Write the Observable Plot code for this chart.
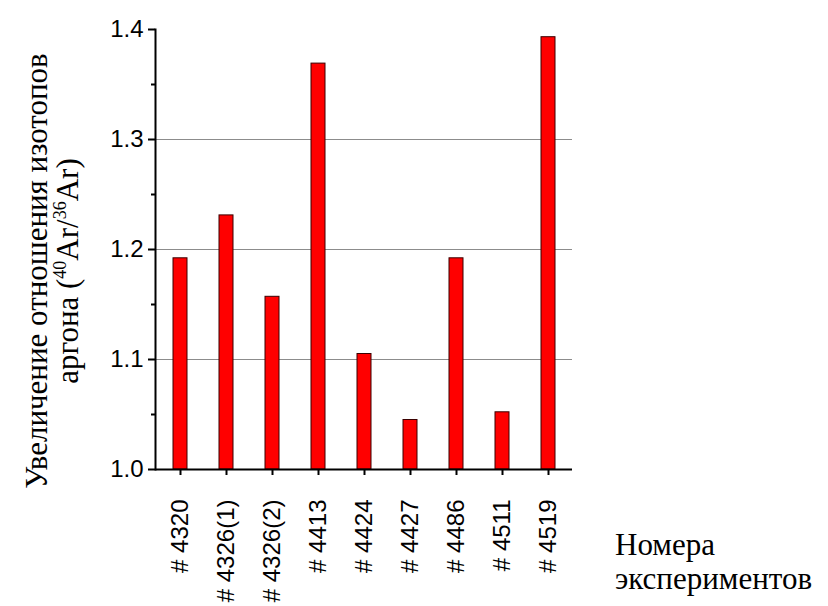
<!DOCTYPE html>
<html lang="ru"><head><meta charset="utf-8">
<script src="https://cdn.jsdelivr.net/npm/d3@7"></script>
<script src="https://cdn.jsdelivr.net/npm/@observablehq/plot@0.6"></script>
<style>body{margin:0;background:#fff} #chart{width:828px;height:606px}</style>
</head><body><div id="chart"></div>
<script>
const experiments = ["# 4320", "# 4326(1)", "# 4326(2)", "# 4413", "# 4424", "# 4427", "# 4486", "# 4511", "# 4519"];
const ratioIncrease = [1.192, 1.231, 1.157, 1.369, 1.105, 1.045, 1.192, 1.052, 1.393];
const yMajorTicks = [1.0, 1.1, 1.2, 1.3, 1.4];
const yMinorTicks = [1.05, 1.15, 1.25, 1.35];
const gridValues = [1.1, 1.2, 1.3];
const yTitleLine1 = "Увеличение отношения изотопов";
const yTitleLine2 = ["аргона (", "40", "Ar/", "36", "Ar)"];
const xTitleLines = ["Номера", "экспериментов"];

const data = experiments.map((name, i) => ({name, value: ratioIncrease[i]}));

const plot = Plot.plot({
  width: 828, height: 606,
  marginLeft: 155, marginRight: 256, marginTop: 29, marginBottom: 137,
  style: {fontFamily: "'Liberation Sans', Arial, sans-serif", fontSize: "24px", background: "#fff", color: "#000"},
  x: {domain: experiments, paddingInner: 0.7, paddingOuter: 0.35, label: null, axis: null},
  y: {domain: [1.0, 1.4], label: null, axis: null},
  marks: [
    Plot.ruleY(gridValues, {stroke: "#8c8c8c", strokeWidth: 1}),
    Plot.barY(data, {x: "name", y1: 1.0, y2: "value", fill: "#ff0000", stroke: "#3a0000", strokeWidth: 1}),
    Plot.axisY(yMajorTicks, {tickSize: 7, tickPadding: 5, tickFormat: d3.format(".1f"), strokeWidth: 2, fontSize: 24, label: null}),
    Plot.axisY(yMinorTicks, {tickSize: 4, tickFormat: () => "", strokeWidth: 2, label: null}),
    Plot.axisX({tickSize: 6, tickPadding: 24, tickRotate: -90, strokeWidth: 2, fontSize: 24, label: null}),
    Plot.ruleY([1.0], {stroke: "#000", strokeWidth: 2}),
    Plot.frame({anchor: "left", strokeWidth: 2})
  ]
});

document.getElementById("chart").appendChild(plot);
const svg = d3.select(plot);
const serif = "'Liberation Serif', 'Times New Roman', serif";

svg.append("text")
  .attr("transform", "translate(47,271) rotate(-90)")
  .attr("text-anchor", "middle")
  .style("font-family", serif).style("font-size", "31px").attr("fill", "#000")
  .text(yTitleLine1);

const t2 = svg.append("text")
  .attr("transform", "translate(78,271) rotate(-90)")
  .attr("text-anchor", "middle")
  .style("font-family", serif).style("font-size", "31px").attr("fill", "#000");
yTitleLine2.forEach((s, i) => {
  const sup = (i === 1 || i === 3);
  const ts = t2.append("tspan").text(s);
  if (sup) ts.style("font-size", "18px").attr("dy", -12);
  else if (i > 0) ts.attr("dy", 12);
});

xTitleLines.forEach((s, i) => {
  svg.append("text")
    .attr("x", 615).attr("y", 555 + i * 34)
    .attr("text-anchor", "start")
    .style("font-family", serif).style("font-size", "31px").attr("fill", "#000")
    .text(s);
});
</script>
</body></html>
